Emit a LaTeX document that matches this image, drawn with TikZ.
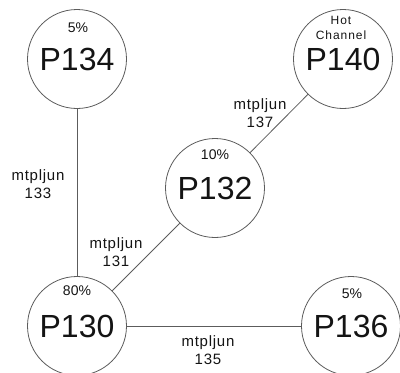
\documentclass[tikz,border=0pt]{standalone}
\usepackage{fontspec}
\setmainfont{Liberation Sans}
\usetikzlibrary{positioning}
\definecolor{Rim}{HTML}{5C5C5C}
\definecolor{Ink}{HTML}{141414}

\begin{document}
\begin{tikzpicture}[x=1pt,y=-1pt,
  pipe/.style={circle,draw=Rim,line width=0.8pt,minimum size=99pt,inner sep=0pt,font=\fontsize{32}{36}\selectfont,text=Ink},
  share/.style={font=\fontsize{14}{16}\selectfont,text=Ink,inner sep=0pt},
  note/.style={font=\fontsize{12}{15}\selectfont\addfontfeatures{LetterSpace=8},align=center,text=Ink,inner sep=0pt},
  tag/.style={font=\fontsize{15}{18}\selectfont\addfontfeatures{LetterSpace=5},align=center,text=Ink,inner sep=0pt},
  link/.style={draw=Rim,line width=0.8pt}
]
\useasboundingbox (0,0) rectangle (400,373);
% pipes
\node[pipe] (p134) at (77,59) {P134};
\node[pipe] (p140) at (343,59) {P140};
\node[pipe] (p132) at (215,188) {P132};
\node[pipe] (p130) at (77,326) {P130};
\node[pipe] (p136) at (351,326) {P136};
% shares
\node[share] (s134) at (78,28) {5\%};
\node[note] (s140) at (341,28) {Hot\\Channel};
\node[share] (s132) at (215,155) {10\%};
\node[share] (s130) at (77,291) {80\%};
\node[share] (s136) at (352,294) {5\%};
% links
\draw[link] (p134) -- (p130);
\draw[link] (p130) -- (p132);
\draw[link] (p132) -- (p140);
\draw[link] (p130) -- (p136);
% link tags
\node[tag] (t133) at (38,184) {mtpljun\\133};
\node[tag] (t131) at (116,252) {mtpljun\\131};
\node[tag] (t137) at (260,113) {mtpljun\\137};
\node[tag] (t135) at (208,350) {mtpljun\\135};
\end{tikzpicture}
\end{document}
